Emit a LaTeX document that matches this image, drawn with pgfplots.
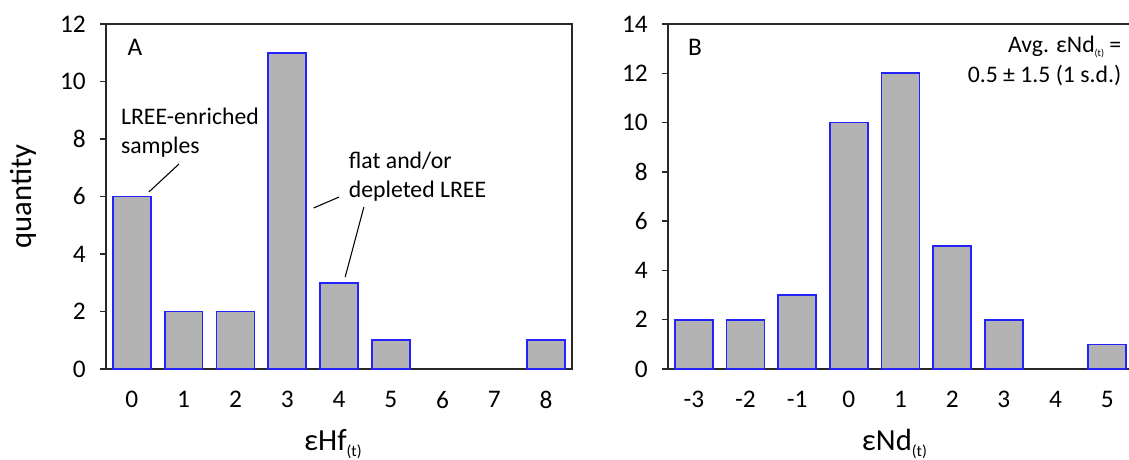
\documentclass[border=0pt]{standalone}
\usepackage{pgfplots}
\pgfplotsset{compat=1.18}
\usepackage{fontspec}
\setmainfont{Carlito}
\definecolor{barfill}{RGB}{179,179,179}
\definecolor{barline}{RGB}{35,35,250}
\definecolor{axline}{RGB}{40,40,40}
\newcommand{\tickfont}{\fontsize{19}{22}\selectfont}
\newcommand{\annfont}{\fontsize{17.8}{21}\selectfont}
\newcommand{\labfont}{\fontsize{23}{27}\selectfont}
\pgfplotsset{
  hist/.style={
    scale only axis,
    anchor=south west,
    height=258.75pt,
    ymin=0,
    tick pos=left,
    tick align=outside,
    major tick length=4.5pt,
    minor tick length=4.5pt,
    xtick style={draw=none},
    minor x tick style={axline, line width=1pt},
    ytick style={axline, line width=1pt},
    axis line style={axline, line width=1.2pt},
    ticklabel style={font=\tickfont, inner sep=0pt},
    yticklabel style={xshift=-10.5pt},
    xticklabel style={yshift=-12pt},
    /pgf/number format/assume math mode=true,
    ybar, bar width=0.73,
    clip=false,
  },
  barstyle/.style={fill=barfill, draw=barline, line width=1.25pt},
}
\begin{document}
\begin{tikzpicture}
\useasboundingbox (0,0) rectangle (846.75pt,345pt);
% Panel A
\begin{axis}[hist,
  at={(79.5pt,68.25pt)}, width=349.5pt,
  xmin=-0.5, xmax=8.5, ymax=12,
  xtick={0,1,2,3,4,5,6,7,8},
  xticklabels={0,1,2,3,4,5,6,7,8},
  minor xtick={-0.5,0.5,1.5,2.5,3.5,4.5,5.5,6.5,7.5,8.5},
  ytick={0,2,4,6,8,10,12},
]
\addplot[barstyle] coordinates {(0,6) (1,2) (2,2) (3,11) (4,3) (5,1) (8,1)};
\node[font=\fontsize{19}{22}\selectfont] at (rel axis cs:0.062,0.933) {A};
\node[font=\annfont, anchor=base west] at (axis cs:-0.3,8.49) {LREE-enriched};
\node[font=\annfont, anchor=base west] at (axis cs:-0.3,7.48) {samples};
\node[font=\annfont, anchor=base west] at (axis cs:4.1,6.99) {flat and/or};
\node[font=\annfont, anchor=base west] at (axis cs:4.1,5.95) {depleted LREE};
\draw[black, line width=0.8pt] (axis cs:0.33,6.16) -- (axis cs:0.91,7.13);
\draw[black, line width=0.8pt] (axis cs:3.51,5.6) -- (axis cs:4.0,5.98);
\draw[black, line width=0.8pt] (axis cs:4.48,5.63) -- (axis cs:4.12,3.2);
\node[font=\labfont, anchor=base] at (rel axis cs:0.487,-0.235) {εHf\raisebox{-5pt}{\fontsize{12}{14}\selectfont(t)}};
\node[font=\labfont, anchor=base, rotate=90] at (rel axis cs:-0.159,0.5) {quantity};
\end{axis}
% Panel B
\begin{axis}[hist,
  at={(501pt,68.25pt)}, width=348.75pt,
  xmin=-3.5, xmax=5.5, ymax=14,
  xtick={-3,-2,-1,0,1,2,3,4,5},
  xticklabels={-3,-2,-1,0,1,2,3,4,5},
  minor xtick={-3.5,-2.5,-1.5,-0.5,0.5,1.5,2.5,3.5,4.5,5.5},
  ytick={0,2,4,6,8,10,12,14},
]
\addplot[barstyle] coordinates {(-3,2) (-2,2) (-1,3) (0,10) (1,12) (2,5) (3,2) (5,1)};
\node[font=\fontsize{19}{22}\selectfont] at (rel axis cs:0.058,0.933) {B};
\node[font=\annfont, anchor=base east] at (rel axis cs:0.985,0.916) {Avg. εNd\raisebox{-2.5pt}{\fontsize{7.5}{9}\selectfont(t)} =};
\node[font=\annfont, anchor=base east] at (rel axis cs:0.985,0.829) {0.5 ± 1.5 (1 s.d.)};
\node[font=\labfont, anchor=base] at (rel axis cs:0.487,-0.235) {εNd\raisebox{-5pt}{\fontsize{12}{14}\selectfont(t)}};
\end{axis}
\end{tikzpicture}
\end{document}
